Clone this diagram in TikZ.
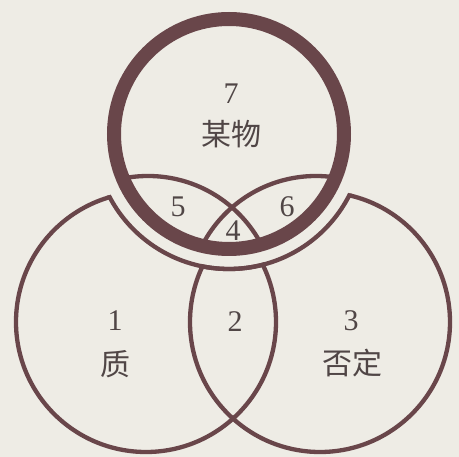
\documentclass[tikz,border=0pt]{standalone}
\usepackage{fontspec}
\setmainfont{Liberation Serif}
\newfontfamily\cjk{Noto Sans CJK SC}
\definecolor{ink}{RGB}{105,70,74}
\definecolor{bg}{RGB}{238,236,229}
\definecolor{txt}{RGB}{80,70,70}
\begin{document}
\begin{tikzpicture}[x=1pt,y=-1pt,
  thinline/.style={draw=ink,line width=4.3pt},
  lbl/.style={text=txt,font=\fontsize{30}{30}\selectfont,inner sep=0pt},
  clbl/.style={text=txt,font=\cjk\fontsize{30}{30}\selectfont,inner sep=0pt}]
\fill[bg] (0,0) rectangle (459,457);
\useasboundingbox (0,0) rectangle (459,457);
\coordinate (T) at (229,134);
\coordinate (L) at (146,322);
\coordinate (R) at (320,322);
% outer circles
\draw[thinline] (L) circle[radius=130];
\draw[thinline] (R) circle[radius=130];
% halo gap
\fill[bg] (T) circle[radius=135];
\begin{scope}
  \clip (L) circle[radius=132.1];
  \draw[thinline] (T) circle[radius=135];
\end{scope}
\begin{scope}
  \clip (R) circle[radius=132.1];
  \draw[thinline] (T) circle[radius=135];
\end{scope}
% inner arcs
\begin{scope}
  \clip (T) circle[radius=112];
  \draw[thinline] (148,304) circle[radius=128];
  \draw[thinline] (316,304) circle[radius=128];
\end{scope}
% thick circle
\draw[ink,line width=14pt] (T) circle[radius=115];
% labels
\node[lbl] (n7) at (231,94) {7};
\node[clbl] (n7t) at (231,134) {某物};
\node[lbl] (n5) at (178,207) {5};
\node[lbl] (n6) at (287,207) {6};
\node[lbl] (n4) at (233,231) {4};
\node[lbl] (n1) at (115,321) {1};
\node[clbl] (n1t) at (115,364) {质};
\node[lbl] (n2) at (235,322) {2};
\node[lbl] (n3) at (351,321) {3};
\node[clbl] (n3t) at (352,363) {否定};
\end{tikzpicture}
\end{document}
